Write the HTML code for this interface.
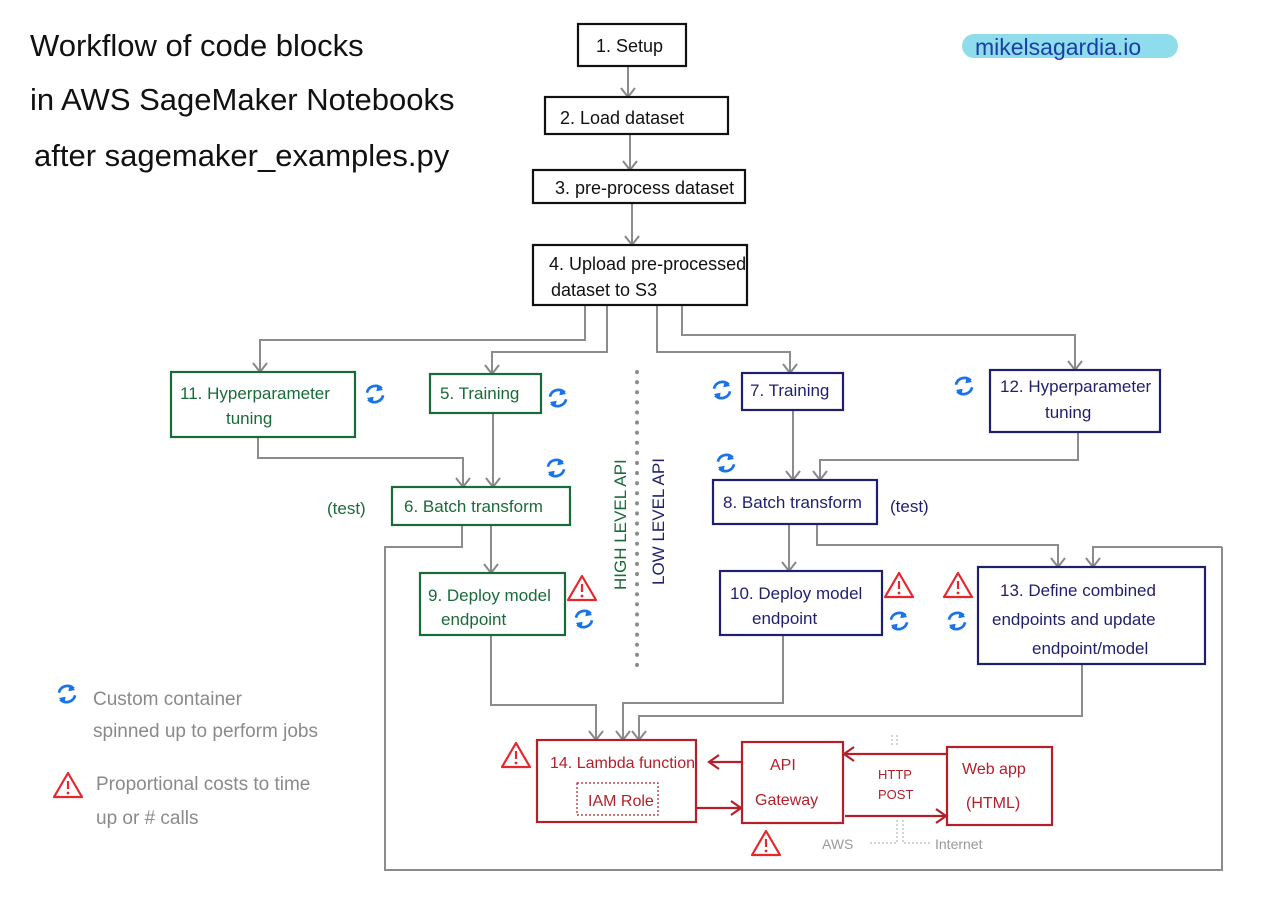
<!DOCTYPE html>
<html><head><meta charset="utf-8"><style>
html,body{margin:0;padding:0;background:#fff;}
svg{display:block;}
text{font-family:"Liberation Sans",sans-serif;}
</style></head><body>
<svg width="1269" height="914" viewBox="0 0 1269 914" xmlns="http://www.w3.org/2000/svg">
<defs>
<marker id="ag" markerWidth="16" markerHeight="16" refX="14" refY="8" orient="auto" markerUnits="userSpaceOnUse" viewBox="0 0 16 16"><path d="M5,1 L14,8 L5,15" fill="none" stroke="#888" stroke-width="2"/></marker>
<marker id="ar" markerWidth="16" markerHeight="16" refX="14" refY="8" orient="auto" markerUnits="userSpaceOnUse" viewBox="0 0 16 16"><path d="M4,1 L14,8 L4,15" fill="none" stroke="#b3202a" stroke-width="2.2"/></marker>
<g id="ref" transform="scale(1.35)"><path d="M-6,-1 A6.5,6.5 0 0 1 5,-4" fill="none" stroke="#1a73e8" stroke-width="2"/><path d="M6,1 A6.5,6.5 0 0 1 -5,4" fill="none" stroke="#1a73e8" stroke-width="2"/><path d="M2,-7 L6,-3 L1,-2Z M-2,7 L-6,3 L-1,2Z" fill="#1a73e8"/></g>
<g id="warn"><path d="M0,-13 L14,11 L-14,11Z" fill="none" stroke="#e8262d" stroke-width="2.2" stroke-linejoin="round"/><line x1="0" y1="-5" x2="0" y2="3" stroke="#e8262d" stroke-width="2.2"/><circle cx="0" cy="7" r="1.4" fill="#e8262d"/></g>
</defs>

<g font-size="31" fill="#111">
<text x="30" y="56">Workflow of code blocks</text>
<text x="30" y="110">in AWS SageMaker Notebooks</text>
<text x="34" y="166">after sagemaker_examples.py</text>
</g>
<rect x="962" y="34" width="216" height="24" rx="12" fill="#8fdcec"/>
<text x="975" y="55" font-size="23" fill="#1c3fa6">mikelsagardia.io</text>

<g fill="none" stroke="#8c8c8c" stroke-width="2" marker-end="url(#ag)">
<path d="M628,66 V97"/>
<path d="M630,134 V170"/>
<path d="M632,203 V245"/>
<path d="M585,305 V340 H260 V372"/>
<path d="M607,305 V352 H492 V374"/>
<path d="M657,305 V352 H790 V373"/>
<path d="M682,305 V335 H1075 V370"/>
<path d="M258,437 V458 H463 V487"/>
<path d="M493,413 V487"/>
<path d="M793,410 V480"/>
<path d="M1078,432 V460 H820 V480"/>
<path d="M491,525 V573"/>
<path d="M789,524 V571"/>
<path d="M817,524 V545 H1058 V567"/>
<path d="M1222,547 H1093 V567"/>
<path d="M491,635 V705 H596 V740"/>
<path d="M783,635 V703 H623 V740"/>
<path d="M1082,664 V716 H639 V740"/>
</g>
<path d="M462,525 V547 H385 V870 H1222 V547" fill="none" stroke="#8c8c8c" stroke-width="2"/>

<line x1="637" y1="372" x2="637" y2="672" stroke="#8c8c8c" stroke-width="4" stroke-linecap="round" stroke-dasharray="0.1 10"/>
<text transform="translate(626,590) rotate(-90)" font-size="17" fill="#1a6b3a">HIGH LEVEL API</text>
<text transform="translate(664,585) rotate(-90)" font-size="17" fill="#1f1f6e">LOW LEVEL API</text>

<g fill="#fff" stroke="#111" stroke-width="2.2">
<rect x="578" y="24" width="108" height="42"/>
<rect x="545" y="97" width="183" height="37"/>
<rect x="533" y="170" width="212" height="33"/>
<rect x="533" y="245" width="214" height="60"/>
</g>
<g font-size="18" fill="#111">
<text x="596" y="52">1. Setup</text>
<text x="560" y="124">2. Load dataset</text>
<text x="555" y="194">3. pre-process dataset</text>
<text x="549" y="270">4. Upload pre-processed</text>
<text x="551" y="296">dataset to S3</text>
</g>

<g fill="#fff" stroke="#1a6b3a" stroke-width="2.2">
<rect x="171" y="372" width="184" height="65"/>
<rect x="430" y="374" width="111" height="39"/>
<rect x="392" y="487" width="178" height="38"/>
<rect x="420" y="573" width="145" height="62"/>
</g>
<g font-size="17" fill="#1a6b3a">
<text x="180" y="399">11. Hyperparameter</text>
<text x="226" y="424">tuning</text>
<text x="440" y="399">5. Training</text>
<text x="404" y="512">6. Batch transform</text>
<text x="327" y="514">(test)</text>
<text x="428" y="601">9. Deploy model</text>
<text x="441" y="625">endpoint</text>
</g>

<g fill="#fff" stroke="#1f1f6e" stroke-width="2.2">
<rect x="742" y="373" width="101" height="37"/>
<rect x="990" y="370" width="170" height="62"/>
<rect x="713" y="480" width="164" height="44"/>
<rect x="720" y="571" width="162" height="64"/>
<rect x="978" y="567" width="227" height="97"/>
</g>
<g font-size="17" fill="#1f1f6e">
<text x="750" y="396">7. Training</text>
<text x="1000" y="392">12. Hyperparameter</text>
<text x="1045" y="418">tuning</text>
<text x="723" y="508">8. Batch transform</text>
<text x="890" y="512">(test)</text>
<text x="730" y="599">10. Deploy model</text>
<text x="752" y="624">endpoint</text>
<text x="1000" y="596">13. Define combined</text>
<text x="992" y="625">endpoints and update</text>
<text x="1032" y="654">endpoint/model</text>
</g>

<g fill="#fff" stroke="#b3202a" stroke-width="2.2">
<rect x="537" y="740" width="159" height="82"/>
<rect x="742" y="742" width="101" height="81"/>
<rect x="947" y="747" width="105" height="78"/>
</g>
<rect x="577" y="783" width="81" height="32" fill="none" stroke="#b3202a" stroke-width="1.2" stroke-dasharray="2 2"/>
<g fill="none" stroke="#b3202a" stroke-width="2.2" marker-end="url(#ar)">
<path d="M742,762 H709"/>
<path d="M697,808 H741"/>
<path d="M946,754 H844"/>
<path d="M845,816 H946"/>
</g>
<g font-size="16" fill="#b3202a">
<text x="550" y="768">14. Lambda function</text>
<text x="588" y="806">IAM Role</text>
<text x="770" y="770">API</text>
<text x="755" y="805">Gateway</text>
<text x="878" y="779" font-size="13">HTTP</text>
<text x="878" y="799" font-size="13">POST</text>
<text x="962" y="774">Web app</text>
<text x="966" y="808">(HTML)</text>
</g>
<g stroke="#aaa" stroke-width="1" stroke-dasharray="2 2" fill="none">
<path d="M892,735 V745 M897,735 V745"/>
<path d="M897,820 V843 H868"/>
<path d="M903,820 V843 H930"/>
</g>
<text x="822" y="849" font-size="14" fill="#999">AWS</text>
<text x="935" y="849" font-size="14" fill="#999">Internet</text>

<use href="#ref" x="375" y="394"/>
<use href="#ref" x="558" y="398"/>
<use href="#ref" x="556" y="468"/>
<use href="#ref" x="584" y="619"/>
<use href="#ref" x="722" y="390"/>
<use href="#ref" x="964" y="386"/>
<use href="#ref" x="726" y="463"/>
<use href="#ref" x="899" y="621"/>
<use href="#ref" x="957" y="621"/>
<use href="#ref" x="67" y="694"/>
<use href="#warn" x="582" y="589"/>
<use href="#warn" x="899" y="586"/>
<use href="#warn" x="958" y="586"/>
<use href="#warn" x="516" y="756"/>
<use href="#warn" x="766" y="844"/>
<use href="#warn" x="68" y="786"/>

<g font-size="19" fill="#8a8a8a">
<text x="93" y="705">Custom container</text>
<text x="93" y="737">spinned up to perform jobs</text>
<text x="96" y="790">Proportional costs to time</text>
<text x="96" y="824">up or # calls</text>
</g>
</svg>
</body></html>
